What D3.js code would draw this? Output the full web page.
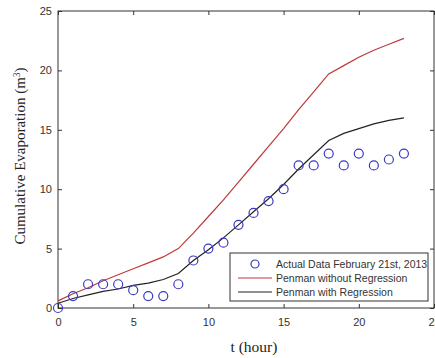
<!DOCTYPE html>
<html>
<head>
<meta charset="utf-8">
<script src="https://cdn.jsdelivr.net/npm/d3@7"></script>
<style>
body { margin: 0; background: #fff; }
.tick text { font-family: Arial, "Liberation Sans", sans-serif; font-size: 11px; fill: #333; }
</style>
</head>
<body>
<svg id="chart" width="435" height="358"></svg>
<script>
var hours = d3.range(0, 24);
var actual = [0, 1, 2, 2, 2, 1.5, 1, 1, 2, 4, 5, 5.5, 7, 8, 9, 10, 12, 12, 13, 12, 13, 12, 12.5, 13];
var penmanNoReg = [0.6, 1.2, 1.7, 2.3, 2.8, 3.3, 3.8, 4.3, 5.0, 6.3, 7.7, 9.1, 10.6, 12.1, 13.6, 15.1, 16.7, 18.2, 19.7, 20.4, 21.1, 21.7, 22.2, 22.7];
var penmanReg = [0.4, 0.8, 1.1, 1.4, 1.6, 1.9, 2.1, 2.4, 2.9, 4.0, 4.9, 5.9, 7.0, 8.1, 9.2, 10.4, 11.7, 12.9, 14.1, 14.7, 15.1, 15.5, 15.8, 16.0];
var xTicks = [0, 5, 10, 15, 20, 25];
var yTicks = [0, 5, 10, 15, 20, 25];

var margin = {left: 58, top: 11, right: 1, bottom: 50};
var svg = d3.select("#chart");
var width = 435 - margin.left - margin.right;
var height = 358 - margin.top - margin.bottom;

var x = d3.scaleLinear().domain([0, 25]).range([0, width]);
var y = d3.scaleLinear().domain([0, 25]).range([height, 0]);

var g = svg.append("g").attr("transform", "translate(" + margin.left + "," + margin.top + ")");

// axes with inward ticks on all sides
g.append("g").attr("transform", "translate(0," + height + ")")
    .call(d3.axisBottom(x).tickValues(xTicks).tickSize(-4).tickPadding(10));
g.append("g")
    .call(d3.axisLeft(y).tickValues(yTicks).tickSize(-4).tickPadding(6));
g.append("g")
    .call(d3.axisTop(x).tickValues(xTicks).tickSize(-4).tickFormat(""));
g.append("g").attr("transform", "translate(" + width + ",0)")
    .call(d3.axisRight(y).tickValues(yTicks).tickSize(-4).tickFormat(""));
g.selectAll(".domain").remove();
g.selectAll(".tick line").attr("stroke", "#333");

g.append("rect").attr("width", width).attr("height", height)
    .attr("fill", "none").attr("stroke", "#333").attr("stroke-width", 1);

var line = function (vals) {
    return d3.line()
        .x(function (d, i) { return x(hours[i]); })
        .y(function (d) { return y(d); })(vals);
};

g.append("path").attr("d", line(penmanNoReg))
    .attr("fill", "none").attr("stroke", "#c0393b").attr("stroke-width", 1.2);
g.append("path").attr("d", line(penmanReg))
    .attr("fill", "none").attr("stroke", "#222").attr("stroke-width", 1.2);

g.selectAll(".pt").data(actual).enter().append("circle")
    .attr("class", "pt")
    .attr("cx", function (d, i) { return x(hours[i]); })
    .attr("cy", function (d) { return y(d); })
    .attr("r", 4.5)
    .attr("fill", "none").attr("stroke", "#3a3ac0").attr("stroke-width", 1.2);

// legend
var leg = g.append("g").attr("transform", "translate(" + (230 - margin.left) + "," + (253 - margin.top) + ")");
leg.append("rect").attr("width", 198).attr("height", 48)
    .attr("fill", "#fff").attr("stroke", "#333").attr("stroke-width", 1);
var items = [
    {label: "Actual Data February 21st, 2013", type: "circle", color: "#3a3ac0"},
    {label: "Penman without Regression", type: "line", color: "#c0393b"},
    {label: "Penman with Regression", type: "line", color: "#222"}
];
items.forEach(function (it, i) {
    var yy = 11 + i * 14;
    if (it.type === "circle") {
        leg.append("circle").attr("cx", 25).attr("cy", yy).attr("r", 4)
            .attr("fill", "none").attr("stroke", it.color).attr("stroke-width", 1.2);
    } else {
        leg.append("line").attr("x1", 8).attr("x2", 42).attr("y1", yy).attr("y2", yy)
            .attr("stroke", it.color).attr("stroke-width", 1.2);
    }
    leg.append("text").attr("x", 46).attr("y", yy + 4)
        .attr("font-family", "Arial, 'Liberation Sans', sans-serif")
        .attr("font-size", 10.5).attr("fill", "#333")
        .text(it.label);
});

// axis labels
svg.append("text")
    .attr("x", 254).attr("y", 352)
    .attr("text-anchor", "middle")
    .attr("font-family", "'Times New Roman', 'Liberation Serif', serif")
    .attr("font-size", 15.5).attr("fill", "#222")
    .text("t (hour)");

var yl = svg.append("text")
    .attr("transform", "translate(25,156) rotate(-90)")
    .attr("text-anchor", "middle")
    .attr("font-family", "'Times New Roman', 'Liberation Serif', serif")
    .attr("font-size", 15).attr("fill", "#222");
yl.append("tspan").text("Cumulative Evaporation (m");
yl.append("tspan").attr("baseline-shift", "super").attr("font-size", 9.5).text("3");
yl.append("tspan").text(")");
</script>
</body>
</html>
